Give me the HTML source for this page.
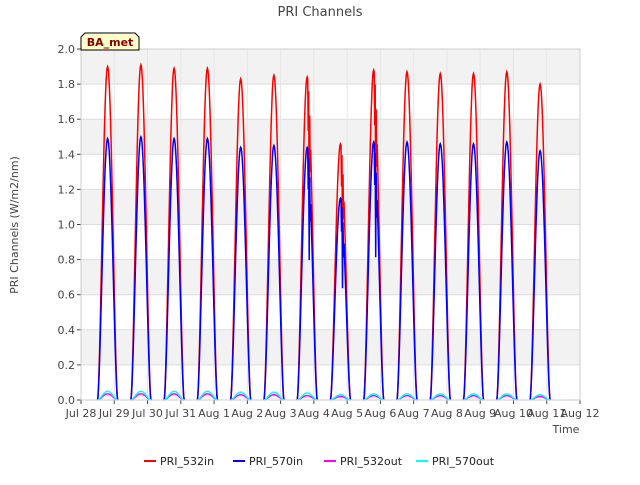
<!DOCTYPE html>
<html><head><meta charset="utf-8"><style>
body{margin:0;background:#fff;font-family:"Liberation Sans","DejaVu Sans",sans-serif}
</style></head><body>
<svg id="c" width="640" height="480" xmlns="http://www.w3.org/2000/svg" font-family="DejaVu Sans, Liberation Sans, sans-serif">
<rect width="640" height="480" fill="#fff"/>
<g id="bands"></g>
<g id="grid"></g>
<g id="series"></g>
<g id="axes"></g>
<text x="320" y="16" text-anchor="middle" font-size="13" fill="#444">PRI Channels</text>
<text x="18" y="225" text-anchor="middle" font-size="11" fill="#444" transform="rotate(-90 18 225)">PRI Channels (W/m2/nm)</text>
<text x="566" y="433" text-anchor="middle" font-size="11" fill="#444">Time</text>
<g>
<path d="M81 50 L81 37 L85 33 L135 33 L139 37 L139 50 Z" fill="#ffffcc" stroke="#000" stroke-width="1"/>
<text x="110" y="46" text-anchor="middle" font-size="11" font-weight="bold" fill="#8b0000">BA_met</text>
</g>
<g id="legend"></g>
</svg>
<script>
const dayLabels=["Jul 28","Jul 29","Jul 30","Jul 31","Aug 1","Aug 2","Aug 3","Aug 4","Aug 5","Aug 6","Aug 7","Aug 8","Aug 9","Aug 10","Aug 11","Aug 12"];
const yTicks=[0,0.2,0.4,0.6,0.8,1.0,1.2,1.4,1.6,1.8,2.0];
const peak532in=[1.90,1.91,1.89,1.89,1.83,1.85,1.84,1.46,1.88,1.87,1.86,1.86,1.87,1.80];
const peak570in=[1.49,1.50,1.49,1.49,1.44,1.45,1.44,1.15,1.47,1.47,1.46,1.46,1.47,1.42];
const peak532out=[0.035,0.035,0.035,0.035,0.03,0.03,0.025,0.02,0.025,0.025,0.025,0.025,0.025,0.02];
const peak570out=[0.05,0.05,0.05,0.05,0.045,0.045,0.04,0.03,0.035,0.035,0.035,0.035,0.035,0.03];
const X0=81,X1=580,Y0=400,Y1=49;
const x=d=>X0+(d/15)*(X1-X0);
const y=v=>Y0-(v/2)*(Y0-Y1);
const NS="http://www.w3.org/2000/svg";
function mk(t,a,p){const e=document.createElementNS(NS,t);for(const k in a)e.setAttribute(k,a[k]);p.appendChild(e);return e;}
const bands=document.getElementById('bands'),grid=document.getElementById('grid'),axes=document.getElementById('axes'),series=document.getElementById('series');
mk('rect',{x:X0,y:Y1,width:X1-X0,height:Y0-Y1,fill:'#fff'},bands);
for(let i=0;i<10;i+=2){mk('rect',{x:X0,y:y(yTicks[i+2]),width:X1-X0,height:y(yTicks[i+1])-y(yTicks[i+2]),fill:'#f2f2f2'},bands);}
yTicks.forEach(v=>{mk('line',{x1:X0,x2:X1,y1:y(v),y2:y(v),stroke:'#ddd'},grid);
const t=mk('text',{x:X0-6,y:y(v)+4,'text-anchor':'end','font-size':11,fill:'#444'},axes);t.textContent=v.toFixed(1);

mk('line',{x1:X0-4,x2:X0,y1:y(v),y2:y(v),stroke:'#444'},axes);});
dayLabels.forEach((l,i)=>{mk('line',{x1:x(i),x2:x(i),y1:Y1,y2:Y0,stroke:'#e6e6e6'},grid);
mk('line',{x1:x(i),x2:x(i),y1:Y0,y2:Y0+4,stroke:'#444'},axes);
const t=mk('text',{x:x(i),y:Y0+17,'text-anchor':'middle','font-size':11,fill:'#444'},axes);t.textContent=l;
});
mk('rect',{x:X0,y:Y1,width:X1-X0,height:Y0-Y1,fill:'none',stroke:'#ccc'},axes);
function build(peaks,noise){let d='';peaks.forEach((p,i)=>{const s=i+0.5,e=i+1.1;
d+=`M${x(s)},${y(0)}`;for(let k=1;k<=40;k++){const f=k/40;let v=p*Math.pow(Math.sin(Math.PI*f),1.6);
if(noise&&(i===6||i===7||i===8)&&f>0.5&&f<0.7)v*=(k%4===0?0.6:(k%4===2?0.85:1));
d+=` L${x(s+(e-s)*f).toFixed(1)},${y(v).toFixed(1)}`;}});return d;}
const defs=[["PRI_532in",peak532in,"#ff0000",true],["PRI_570in",peak570in,"#0000ff",true],["PRI_532out",peak532out,"#ff00ff",false],["PRI_570out",peak570out,"#00ffff",false]];
defs.forEach(([n,p,c,nz])=>{const e=mk('path',{d:build(p,nz),fill:'none',stroke:c,'stroke-width':1.5},series);
});
const lg=document.getElementById('legend');const lx=[144,233,324,416];
defs.forEach(([n,p,c],i)=>{const g=mk('g',{},lg);
mk('line',{x1:lx[i],x2:lx[i]+12,y1:461,y2:461,stroke:c,'stroke-width':2},g);
const t=mk('text',{x:lx[i]+16,y:465,'font-size':11,fill:'#222'},g);t.textContent=n;});
</script>
</body></html>
